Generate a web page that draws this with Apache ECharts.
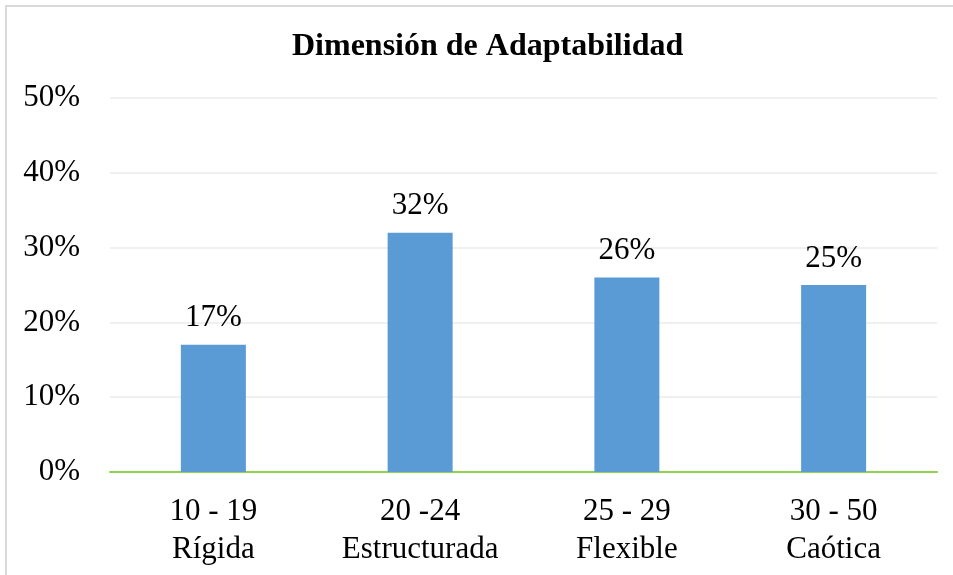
<!DOCTYPE html>
<html><head><meta charset="utf-8">
<script src="https://cdn.jsdelivr.net/npm/echarts@6/dist/echarts.min.js"></script>
<style>html,body{margin:0;padding:0;background:#fff;}#c{width:953px;height:575px;}</style>
</head><body><div id="c"></div>
<script>
const categories = ["10 - 19\nRígida", "20 -24\nEstructurada", "25 - 29\nFlexible", "30 - 50\nCaótica"];
const values = [17, 32, 26, 25];
const yTicks = [0, 10, 20, 30, 40, 50];
const title = "Dimensión de Adaptabilidad";

const font = "'Liberation Serif','Times New Roman',serif";
const chart = echarts.init(document.getElementById('c'), null, {renderer:'canvas'});
chart.setOption({
  animation:false,
  backgroundColor:'#fff',
  title:{text:title,left:292,top:31,padding:0,textStyle:{fontFamily:font,fontSize:32,fontWeight:'bold',color:'#000'}},
  graphic:[{type:'rect',shape:{x:6,y:6,width:960,height:580},style:{fill:'none',stroke:'#d9d9d9',lineWidth:2},silent:true}],
  grid:{left:110,right:16,top:98,bottom:103},
  xAxis:{type:'category',data:categories,
    axisLine:{lineStyle:{color:'#92D050',width:2}},axisTick:{show:false},
    axisLabel:{fontFamily:font,fontSize:31,color:'#000',margin:21,lineHeight:38}},
  yAxis:{type:'value',min:yTicks[0],max:yTicks[yTicks.length-1],interval:10,
    axisLine:{show:false},axisTick:{show:false},
    splitLine:{lineStyle:{color:'#ebebeb',width:1.5}},
    axisLabel:{fontFamily:font,fontSize:31,color:'#000',margin:30,formatter:v=>v+'%'}},
  series:[{type:'bar',data:values,barWidth:65,itemStyle:{color:'#5B9BD5'},
    label:{show:true,position:'top',distance:11,fontFamily:font,fontSize:31,color:'#000',formatter:p=>p.value+'%'}}]
});
</script></body></html>
